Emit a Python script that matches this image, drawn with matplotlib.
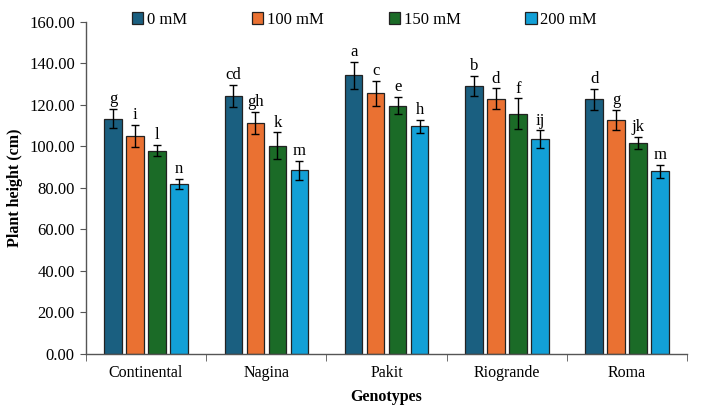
import matplotlib
matplotlib.use("Agg")
import matplotlib.pyplot as plt
import numpy as np
from matplotlib.ticker import FormatStrFormatter, FixedLocator

plt.rcParams['font.family'] = ['Liberation Serif', 'DejaVu Serif']

genotypes = ["Continental", "Nagina", "Pakit", "Riogrande", "Roma"]
series = ["0 mM", "100 mM", "150 mM", "200 mM"]
colors = ["#1a5f80", "#ea7132", "#1b6b27", "#12a0d7"]

v0 = [113.4, 124.3, 134.3, 129.3, 122.7]
v100 = [105.2, 111.5, 125.6, 123.0, 112.8]
v150 = [98.0, 100.4, 119.7, 115.8, 101.7]
v200 = [82.1, 88.5, 109.7, 103.6, 88.0]

e0 = [4.7, 5.3, 6.6, 4.8, 5.1]
e100 = [5.3, 5.3, 6.1, 5.0, 4.7]
e150 = [2.7, 6.4, 4.3, 7.4, 2.9]
e200 = [2.4, 4.7, 3.2, 4.2, 3.2]

l0 = ["g", "cd", "a", "b", "d"]
l100 = ["i", "gh", "c", "d", "g"]
l150 = ["l", "k", "e", "f", "jk"]
l200 = ["n", "m", "h", "ij", "m"]

values = [v0, v100, v150, v200]
errors = [e0, e100, e150, e200]
letters = [l0, l100, l150, l200]

fig = plt.figure(figsize=(7.1, 4.13), dpi=100)
ax = fig.add_axes([0.121, 0.143, 0.847, 0.804])

x = np.arange(len(genotypes))
step = 0.183
width = 0.146
for i, (vals, errs, labs) in enumerate(zip(values, errors, letters)):
    pos = x + (i - 1.5) * step
    ax.bar(pos, vals, width, color=colors[i], edgecolor="#222222", linewidth=0.9,
           label=series[i], zorder=2)
    ax.errorbar(pos, vals, yerr=errs, fmt="none", ecolor="black", elinewidth=1.0,
                capsize=3, capthick=1.0, zorder=3)
    for p, v, e, t in zip(pos, vals, errs, labs):
        ax.text(p, v + e + 0.8, t, ha="center", va="bottom", fontsize=12)

ax.set_xlim(-0.5, len(genotypes) - 0.5)
ax.set_ylim(0, 160)
ax.set_yticks(np.arange(0, 161, 20))
ax.yaxis.set_major_formatter(FormatStrFormatter("%.2f"))
ax.set_xticks(x)
ax.set_xticklabels(genotypes)
ax.xaxis.set_minor_locator(FixedLocator(np.arange(-0.5, len(genotypes), 1.0)))
ax.tick_params(axis="x", which="major", length=0, pad=8, labelsize=11.5)
ax.tick_params(axis="x", which="minor", length=5, direction="out", color="#555555")
ax.tick_params(axis="y", length=4, direction="out", color="#555555", labelsize=12, pad=4)

for s in ["top", "right"]:
    ax.spines[s].set_visible(False)
for s in ["left", "bottom"]:
    ax.spines[s].set_color("#555555")
    ax.spines[s].set_linewidth(1.0)

ax.set_ylabel("Plant height (cm)", fontsize=11.5, fontweight="bold", labelpad=4)
ax.set_xlabel("Genotypes", fontsize=11.5, fontweight="bold", labelpad=6)

leg = ax.legend(loc="upper center", bbox_to_anchor=(0.463, 1.075), ncol=4, frameon=False,
                fontsize=12, handlelength=0.7, handleheight=0.7, handletextpad=0.2,
                columnspacing=3.9)

fig.savefig("out.png", dpi=100)
